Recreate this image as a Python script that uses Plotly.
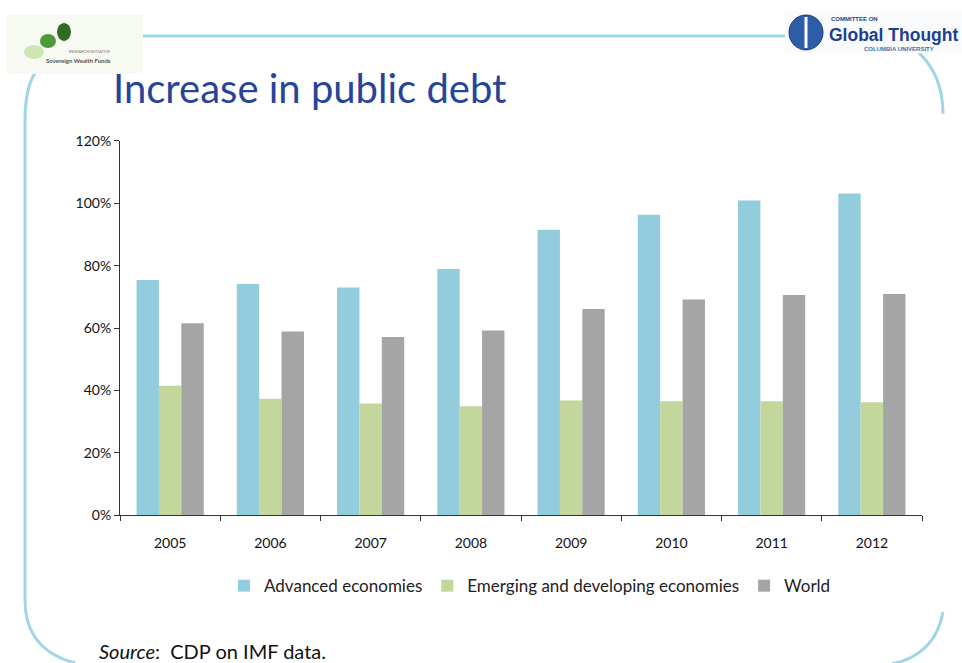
import plotly.graph_objects as go

W, H = 962, 663

years = ["2005", "2006", "2007", "2008", "2009", "2010", "2011", "2012"]
advanced = [75.4, 74.1, 73.0, 78.9, 91.5, 96.3, 100.9, 103.1]
emerging = [41.5, 37.3, 35.8, 34.9, 36.8, 36.5, 36.5, 36.2]
world = [61.5, 58.9, 57.1, 59.2, 66.1, 69.1, 70.6, 70.9]
y_ticks = [0, 20, 40, 60, 80, 100, 120]

series_names = ["Advanced economies", "Emerging and developing economies", "World"]
colors = ["#93CDDD", "#C3D69B", "#A5A5A5"]

FONT = "Lato"
fig = go.Figure()
for name, vals, c in zip(series_names, [advanced, emerging, world], colors):
    fig.add_trace(go.Bar(x=years, y=vals, name=name, marker=dict(color=c, line=dict(width=0))))


def px(x):
    return x / W


# the page renders the figure about 647 px tall starting 8 px down
def py(y):
    return 1 - (y - 8) / 647


frame_col = "#9ED7E3"
shapes = [
    dict(type="line", xref="paper", yref="paper", x0=px(143), x1=px(786), y0=py(35), y1=py(35),
         line=dict(color=frame_col, width=3)),
    dict(type="path", xref="paper", yref="paper",
         path=f"M {px(35)},{py(72)} Q {px(25)},{py(88)} {px(25)},{py(120)} L {px(25)},{py(600)} Q {px(25)},{py(650)} {px(75)},{py(663)}",
         line=dict(color=frame_col, width=3)),
    dict(type="path", xref="paper", yref="paper",
         path=f"M {px(919)},{py(52)} Q {px(943)},{py(75)} {px(943)},{py(113)}",
         line=dict(color=frame_col, width=3)),
    dict(type="path", xref="paper", yref="paper",
         path=f"M {px(943)},{py(612)} Q {px(935)},{py(655)} {px(892)},{py(664)}",
         line=dict(color=frame_col, width=3)),
    # left logo background
    dict(type="rect", xref="paper", yref="paper", x0=px(7), x1=px(143), y0=py(73), y1=py(14),
         fillcolor="#F6FAF3", line=dict(width=0)),
    dict(type="circle", xref="paper", yref="paper", x0=px(24), x1=px(44), y0=py(58), y1=py(44),
         fillcolor="#CFE5B2", line=dict(width=0)),
    dict(type="circle", xref="paper", yref="paper", x0=px(40), x1=px(56), y0=py(47), y1=py(33),
         fillcolor="#4E9A3A", line=dict(width=0)),
    dict(type="circle", xref="paper", yref="paper", x0=px(57), x1=px(71), y0=py(40), y1=py(22),
         fillcolor="#2F6B25", line=dict(width=0)),
    # right logo
    dict(type="rect", xref="paper", yref="paper", x0=px(785), x1=px(962), y0=py(52), y1=py(10),
         fillcolor="#FAFBFD", line=dict(width=0)),
    dict(type="circle", xref="paper", yref="paper", x0=px(789), x1=px(823), y0=py(49), y1=py(14),
         fillcolor="#2D5DA8", line=dict(color="#1B3A7A", width=1)),
    dict(type="line", xref="paper", yref="paper", x0=px(806), x1=px(806), y0=py(16), y1=py(47),
         line=dict(color="white", width=3)),
]

annotations = [
    dict(text="Increase in public debt", x=px(111), y=py(87), xref="paper", yref="paper",
         xanchor="left", yanchor="middle", showarrow=False,
         font=dict(family=FONT, size=40, color="#27449B")),
    dict(text="<i>Source</i>:  CDP on IMF data.", x=px(97), y=py(651), xref="paper", yref="paper",
         xanchor="left", yanchor="middle", showarrow=False,
         font=dict(family=FONT, size=20, color="#111111")),
    dict(text="<b>Sovereign Wealth Funds</b>", x=px(78), y=py(60), xref="paper", yref="paper",
         xanchor="center", yanchor="middle", showarrow=False,
         font=dict(family=FONT, size=6, color="#555555")),
    dict(text="RESEARCH INITIATIVE", x=px(90), y=py(51), xref="paper", yref="paper",
         xanchor="center", yanchor="middle", showarrow=False,
         font=dict(family=FONT, size=4, color="#777777")),
    dict(text="<b>Global Thought</b>", x=px(827), y=py(34), xref="paper", yref="paper",
         xanchor="left", yanchor="middle", showarrow=False,
         font=dict(family="Liberation Sans", size=17.5, color="#1F3F8C")),
    dict(text="<b>COMMITTEE ON</b>", x=px(829), y=py(18), xref="paper", yref="paper",
         xanchor="left", yanchor="middle", showarrow=False,
         font=dict(family="Liberation Sans", size=6, color="#1F3F8C")),
    dict(text="<b>COLUMBIA UNIVERSITY</b>", x=px(862), y=py(48), xref="paper", yref="paper",
         xanchor="left", yanchor="middle", showarrow=False,
         font=dict(family="Liberation Sans", size=6, color="#3F6FB5")),
]

fig.update_layout(
    width=W, height=H,
    margin=dict(l=0, r=0, t=0, b=0),
    paper_bgcolor="white", plot_bgcolor="white",
    barmode="group", bargap=0.33, bargroupgap=0,
    font=dict(family=FONT, color="#111111"),
    shapes=shapes, annotations=annotations,
    legend=dict(orientation="h", x=px(530), xanchor="center", y=py(586), yanchor="middle",
                font=dict(family=FONT, size=17, color="#222222"), itemwidth=30,
                traceorder="normal"),
    xaxis=dict(domain=[px(120), px(922)], showline=True, linecolor="#333333", linewidth=1,
               ticks="outside", tickson="boundaries", ticklen=5, tickcolor="#333333",
               tickfont=dict(family=FONT, size=14, color="#111111"), ticklabelstandoff=15,
               showgrid=False),
    yaxis=dict(domain=[py(515), py(140)], range=[0, 120], tickvals=y_ticks,
               ticktext=[f"{v}%" for v in y_ticks], showline=True, linecolor="#333333",
               linewidth=1, ticks="outside", ticklen=5, tickcolor="#333333",
               tickfont=dict(family=FONT, size=14, color="#111111"), showgrid=False,
               zeroline=False),
)

fig.write_html("out.html")
